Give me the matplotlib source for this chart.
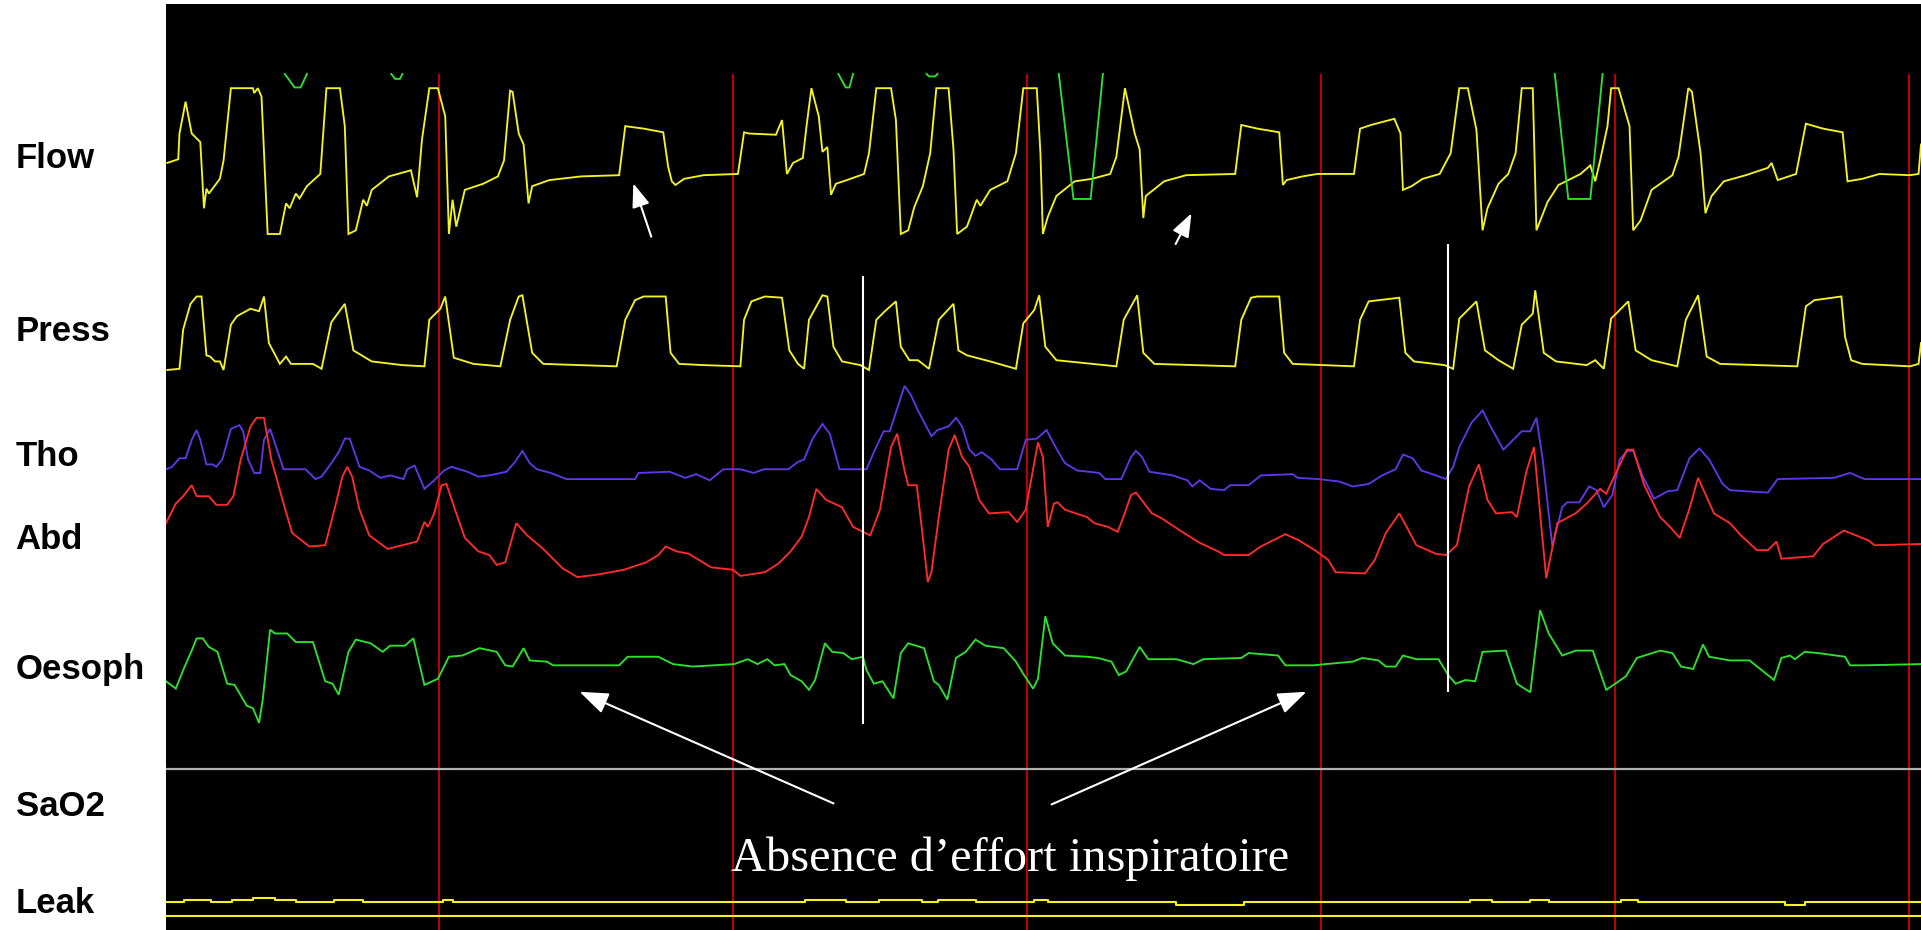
import numpy as np
import matplotlib.pyplot as plt
from matplotlib import transforms

FS = 24.0      # screen samples per second
SPAN = 1433    # samples across the window

# Ventilator / PSG channels: (sample, amplitude) in display units
flow = [(1, 9), (10, 12), (11, 33), (16, 59), (21, 33), (28, 26), (31, -28), (33, -12), (35, -16),
        (44, -4), (47, 11), (53, 70), (71, 70), (72, 66), (75, 70), (78, 63), (83, -49), (93, -49),
        (98, -24), (101, -28), (106, -16), (109, -20), (115, -10), (126, 0), (131, 70), (142, 70),
        (146, 39), (149, -49), (155, -46), (161, -21), (164, -26), (168, -13), (182, -2), (200, 3),
        (205, -19), (209, 28), (215, 70), (222, 70), (228, 47), (231, -49), (234, -21), (237, -43),
        (244, -13), (259, -8), (271, -2), (276, 11), (281, 68), (283, 67), (288, 33), (292, 24),
        (296, -24), (299, -10), (313, -5), (339, -2), (370, -1), (375, 39), (390, 37), (406, 34),
        (410, 6), (413, -6), (416, -9), (423, -4), (439, -1), (467, 0), (472, 34), (476, 33),
        (498, 32), (503, 44), (507, 0), (512, 9), (520, 13), (523, 39), (527, 70), (533, 47),
        (536, 18), (540, 22), (543, -17), (547, -8), (556, -5), (570, 0), (574, 17), (580, 70),
        (592, 70), (596, 44), (600, -49), (606, -46), (611, -27), (618, -10), (624, 17), (629, 70),
        (639, 70), (643, 20), (646, -49), (654, -43), (662, -21), (665, -26), (673, -13), (687, -6),
        (694, 17), (700, 70), (711, 70), (714, 17), (716, -49), (720, -35), (727, -18), (742, -6),
        (756, -4), (771, 0), (776, 14), (783, 70), (791, 33), (795, 20), (798, -36), (800, -18),
        (815, -6), (833, -1), (873, 0), (878, 40), (891, 37), (909, 34), (912, -9), (915, -5),
        (928, -2), (940, 0), (970, 0), (975, 37), (984, 40), (1003, 45), (1008, 33), (1010, -13),
        (1017, -10), (1026, -4), (1040, 0), (1049, 17), (1056, 70), (1063, 70), (1070, 36),
        (1075, -46), (1079, -28), (1088, -8), (1096, 0), (1102, 17), (1107, 70), (1116, 70),
        (1119, -46), (1128, -23), (1137, -9), (1155, 0), (1163, 7), (1167, -6), (1171, 11),
        (1177, 39), (1180, 70), (1186, 70), (1195, 39), (1198, -46), (1204, -38), (1213, -13),
        (1230, -1), (1235, 14), (1243, 70), (1246, 67), (1253, 17), (1257, -32), (1262, -18),
        (1272, -6), (1290, -1), (1308, 5), (1311, 9), (1316, -5), (1325, -2), (1331, 0), (1339, 41),
        (1353, 37), (1369, 34), (1373, -6), (1385, -4), (1399, 0), (1424, -1), (1431, 0), (1433, 24)]

press = [(1, -3), (11, -2), (14, 30), (20, 51), (25, 57), (29, 57), (33, 9), (36, 8), (40, 4), (44, 4),
         (47, -3), (53, 34), (58, 41), (69, 47), (76, 45), (80, 57), (84, 19), (93, 2), (98, 8),
         (102, 2), (120, 2), (127, -2), (135, 36), (146, 51), (153, 13), (168, 4), (193, 1), (211, 0),
         (215, 38), (224, 47), (228, 57), (235, 7), (251, 2), (273, 0), (281, 38), (288, 57),
         (291, 58), (299, 11), (308, 2), (368, 0), (375, 38), (383, 54), (390, 57), (408, 57),
         (412, 11), (419, 2), (439, 1), (469, 0), (472, 38), (478, 53), (489, 57), (503, 56),
         (509, 13), (516, 2), (521, -2), (525, 38), (536, 58), (540, 57), (545, 16), (552, 4),
         (567, 1), (574, -3), (580, 38), (587, 45), (596, 53), (600, 16), (607, 5), (614, 5),
         (623, -2), (631, 38), (643, 51), (647, 13), (654, 9), (673, 4), (694, -2), (700, 35),
         (709, 46), (713, 58), (718, 16), (727, 5), (776, 0), (782, 38), (793, 58), (798, 11),
         (807, 2), (873, 0), (878, 38), (886, 56), (891, 57), (909, 57), (913, 11), (920, 2),
         (970, 0), (975, 38), (982, 53), (1007, 56), (1012, 11), (1019, 4), (1044, 1), (1051, -2),
         (1056, 39), (1070, 53), (1077, 13), (1088, 5), (1100, -2), (1107, 34), (1116, 43),
         (1118, 62), (1125, 11), (1135, 4), (1160, 1), (1167, 5), (1174, -2), (1180, 39), (1194, 53),
         (1200, 13), (1213, 5), (1234, 0), (1241, 38), (1251, 58), (1258, 8), (1269, 2), (1332, 0),
         (1339, 49), (1346, 54), (1368, 57), (1371, 24), (1376, 5), (1385, 2), (1424, 0), (1431, 2),
         (1433, 19)]

thorax = [(0, 0), (5, 2), (11, 9), (16, 9), (21, 24), (25, 32), (28, 24), (33, 4), (38, 4), (41, 2),
          (46, 8), (53, 33), (60, 36), (63, 31), (67, 8), (72, -3), (77, -3), (80, 24), (85, 33),
          (89, 21), (96, 0), (114, 0), (122, -8), (127, -6), (135, 5), (141, 14), (146, 25), (150, 25),
          (158, 2), (166, -1), (175, -7), (183, -5), (194, -8), (197, 0), (203, 3), (211, -16),
          (219, -9), (227, -1), (233, 2), (246, -2), (255, -6), (264, -5), (278, -2), (285, 6),
          (291, 15), (297, 5), (303, 0), (314, -3), (327, -8), (383, -8), (386, -3), (411, -2),
          (424, -7), (433, -4), (444, -9), (455, 0), (469, 0), (480, -3), (488, 0), (508, 0), (516, 6),
          (521, 8), (528, 25), (536, 37), (542, 29), (550, 0), (572, 0), (578, 14), (586, 31),
          (591, 31), (603, 68), (608, 61), (614, 48), (625, 27), (630, 32), (639, 35), (645, 42),
          (650, 35), (656, 16), (661, 11), (666, 14), (674, 8), (681, 0), (695, 0), (702, 24),
          (711, 25), (719, 32), (727, 17), (734, 5), (744, -1), (762, -3), (767, -8), (780, -8),
          (788, 10), (792, 15), (797, 10), (803, -2), (822, -5), (834, -9), (838, -14), (844, -9),
          (853, -16), (864, -17), (869, -13), (884, -13), (894, -5), (920, -4), (924, -7), (941, -8),
          (958, -10), (969, -14), (982, -12), (993, -5), (1004, 0), (1010, 12), (1018, 9), (1025, -1),
          (1037, -5), (1045, -8), (1051, 2), (1056, 18), (1066, 38), (1075, 48), (1081, 36),
          (1092, 16), (1099, 23), (1107, 31), (1114, 31), (1119, 42), (1124, 9), (1132, -63),
          (1140, -31), (1144, -27), (1154, -27), (1162, -14), (1168, -17), (1174, -31), (1181, -21),
          (1187, 8), (1193, 15), (1198, 15), (1206, -6), (1215, -24), (1226, -18), (1234, -17),
          (1244, 9), (1252, 17), (1260, 8), (1271, -12), (1277, -17), (1290, -18), (1308, -19),
          (1316, -8), (1362, -7), (1375, -3), (1387, -8), (1433, -8)]

abdomen = [(0, 13), (8, 29), (14, 35), (21, 44), (25, 35), (35, 35), (41, 28), (50, 28), (55, 35),
           (61, 65), (69, 92), (74, 99), (80, 99), (86, 65), (96, 29), (103, 5), (117, -6), (130, -5),
           (138, 26), (144, 51), (148, 59), (152, 51), (158, 24), (166, 3), (181, -8), (205, -2),
           (211, 14), (214, 10), (219, 21), (225, 44), (229, 45), (236, 24), (244, 1), (255, -10),
           (264, -13), (270, -21), (277, -19), (286, 13), (295, 3), (308, -8), (324, -24), (336, -31),
           (352, -29), (374, -25), (380, -23), (392, -19), (402, -13), (408, -6), (417, -10),
           (427, -12), (445, -23), (463, -25), (469, -30), (489, -27), (500, -20), (510, -10), (519, 2),
           (525, 18), (531, 41), (539, 32), (552, 26), (561, 10), (575, 3), (583, 24), (592, 75),
           (597, 86), (603, 56), (606, 44), (613, 44), (617, 10), (622, -35), (625, -27), (631, 18),
           (639, 73), (644, 85), (650, 67), (656, 59), (664, 32), (672, 21), (688, 22), (695, 14),
           (702, 24), (712, 79), (716, 67), (720, 10), (725, 29), (728, 30), (734, 24), (752, 18),
           (758, 13), (769, 10), (777, 6), (781, 16), (788, 36), (792, 38), (805, 21), (813, 17),
           (828, 7), (844, -3), (859, -10), (864, -13), (884, -13), (894, -6), (914, 4), (925, -1),
           (938, -9), (949, -17), (955, -27), (979, -28), (987, -17), (996, 5), (1007, 21), (1013, 10),
           (1021, -5), (1037, -12), (1045, -13), (1054, -5), (1064, 43), (1072, 61), (1079, 32),
           (1086, 21), (1099, 22), (1103, 18), (1111, 56), (1117, 75), (1122, 21), (1127, -32),
           (1136, 13), (1151, 21), (1160, 29), (1171, 41), (1176, 37), (1182, 50), (1193, 73),
           (1198, 73), (1207, 44), (1220, 18), (1228, 10), (1236, 1), (1244, 25), (1251, 50),
           (1264, 21), (1277, 13), (1286, 3), (1299, -9), (1308, -9), (1315, -2), (1319, -16),
           (1345, -14), (1353, -4), (1370, 7), (1390, -1), (1395, -5), (1433, -4)]

oesoph = [(0, -14), (8, -20), (14, -5), (21, 11), (25, 21), (30, 21), (35, 14), (42, 10), (50, -16),
          (56, -17), (66, -34), (71, -36), (76, -48), (79, -29), (85, 28), (89, 25), (99, 25), (106, 18),
          (120, 18), (130, -14), (136, -16), (141, -25), (149, 10), (155, 20), (167, 17), (177, 10),
          (183, 15), (195, 15), (202, 21), (211, -17), (222, -12), (231, 6), (242, 7), (256, 13),
          (270, 10), (277, -1), (283, -2), (292, 13), (297, 3), (311, 2), (316, -1), (370, -1), (377, 6),
          (402, 6), (414, 0), (430, -2), (464, 0), (475, 4), (483, 0), (491, 4), (497, -1), (505, 0),
          (510, -9), (519, -14), (525, -21), (530, -13), (538, 17), (544, 10), (553, 9), (560, 4),
          (569, 6), (572, -5), (578, -16), (585, -14), (594, -28), (600, 9), (606, 17), (619, 13),
          (627, -14), (631, -17), (638, -29), (645, 5), (653, 10), (661, 20), (669, 15), (684, 13),
          (694, 2), (700, -8), (708, -20), (712, -12), (718, 39), (724, 17), (734, 7), (752, 6),
          (761, 5), (772, 2), (778, -9), (784, -6), (795, 14), (802, 4), (825, 4), (839, 0), (847, 4),
          (878, 5), (884, 9), (908, 7), (914, -1), (937, -1), (947, 0), (969, 2), (977, 5), (990, 3),
          (996, -2), (1004, -2), (1010, 7), (1021, 4), (1039, 4), (1047, -9), (1053, -16), (1061, -13),
          (1069, -14), (1075, 10), (1094, 11), (1103, -16), (1114, -23), (1122, 44), (1129, 25),
          (1140, 7), (1151, 11), (1165, 11), (1176, -21), (1192, -10), (1201, 5), (1220, 11),
          (1230, 9), (1237, -2), (1247, -4), (1255, 16), (1260, 6), (1277, 3), (1293, 3), (1313, -13),
          (1319, 5), (1326, 7), (1330, 4), (1338, 10), (1349, 9), (1371, 6), (1375, -1), (1387, -1),
          (1433, 0)]

# second green channel: only its clipped excursions reach the flow window
nan = np.nan
green_wrap = [(97, 0), (105, -11), (110, -11), (115, 0), (nan, nan),
              (184, 0), (187, -4), (191, -4), (193, 0), (nan, nan),
              (549, 0), (555, -11), (558, -11), (561, 0), (nan, nan),
              (621, 0), (623, -2), (628, -2), (630, 0), (nan, nan),
              (729, 0), (741, -102), (755, -102), (765, 0), (nan, nan),
              (1134, 0), (1145, -102), (1163, -102), (1173, 0)]

# leak: (sample where level starts, level)
leak = [(0, 11), (15, 13), (37, 11), (54, 13), (71, 15), (89, 13), (106, 11), (137, 13), (161, 11),
        (226, 13), (234, 11), (522, 13), (555, 11), (582, 13), (617, 11), (630, 13), (661, 11),
        (709, 13), (720, 11), (825, 9), (880, 11), (1065, 13), (1083, 11), (1114, 13), (1129, 11),
        (1188, 13), (1202, 11), (1322, 9), (1338, 11)]
leak_ref = 0
sao2_level = 0

epochs = [9.3, 19.3, 29.3, 39.3, 49.3, 59.3]   # s, epoch boundaries
events = [23.7, 43.6]                          # s, event markers

labels = ['Flow', 'Press', 'Tho', 'Abd', 'Oesoph', 'SaO2', 'Leak']

# vertical layout (display rows, top = 0)
row = {'Flow': 142, 'Press': 299, 'Tho': 383, 'Abd': 440, 'Oesoph': 542,
       'SaO2': 628, 'Leak': 747.5, 'wrap': 60.4}
label_y = [137.4, 278.2, 380, 448, 554, 666, 745]

YELLOW = '#f2f224'
GREEN = '#2ee02e'

fig = plt.figure(figsize=(19.21, 9.30), dpi=100, facecolor='white')
ax = fig.add_axes([166 / 1921, 0, 1755 / 1921, 926 / 930])
ax.set_facecolor('black')
ax.set_xlim(0, SPAN / FS)
ax.set_ylim(759, 3.3)
ax.set_xticks([])
ax.set_yticks([])
for s in ax.spines.values():
    s.set_visible(False)


def draw(pairs, base, color, lw=1.35):
    n, v = np.array(pairs, dtype=float).T
    ax.plot(n / FS, base - v, color=color, lw=lw, zorder=2, solid_joinstyle='miter')


# epoch boundaries
ax.vlines(epochs, row['wrap'], 759, color='#e00000', lw=1.2, zorder=1)

draw(flow, row['Flow'], YELLOW)
draw(green_wrap, row['wrap'], GREEN)
draw(press, row['Press'], YELLOW)
draw(thorax, row['Tho'], '#5f37e6')
draw(abdomen, row['Abd'], '#ff2b2b')
draw(oesoph, row['Oesoph'], GREEN)

ax.axhline(row['SaO2'] - sao2_level, color='#b0b0b0', lw=1.6, zorder=1)

n, v = np.array(leak, dtype=float).T
ax.step(np.append(n, SPAN) / FS, row['Leak'] - np.append(v, v[-1]), where='post',
        color=YELLOW, lw=1.5, zorder=2)
ax.axhline(row['Leak'] - leak_ref, color=YELLOW, lw=1.5, zorder=2)

# event markers
ax.vlines(events[0], 225, 591, color='white', lw=1.5, zorder=4)
ax.vlines(events[1], 199, 565, color='white', lw=1.5, zorder=4)

# annotations
ax.text(28.7, 711, 'Absence d\u2019effort inspiratoire', color='white', fontsize=34.8,
        family='Liberation Serif', ha='center', va='baseline', zorder=5)

arrows = [((22.71, 655.7), (14.07, 564.6), 22),
          ((30.13, 656.5), (38.80, 564.6), 22),
          ((16.51, 193.2), (15.90, 149.7), 18),
          ((34.35, 199.2), (34.89, 174.1), 18)]
for tail, head, ms in arrows:
    ax.annotate('', xy=head, xytext=tail, zorder=5,
                arrowprops=dict(arrowstyle='-|>,head_length=0.8,head_width=0.3',
                                color='white', lw=1.5, mutation_scale=ms,
                                shrinkA=0, shrinkB=0))

# channel names in the white margin
trans = transforms.blended_transform_factory(fig.transFigure, ax.transData)
for name, y in zip(labels, label_y):
    ax.text(15.6 / 1921, y, name, transform=trans, fontsize=25, fontweight='bold',
            family='Liberation Sans', va='baseline', ha='left', clip_on=False)

fig.savefig('out.png', dpi=100, facecolor='white')
